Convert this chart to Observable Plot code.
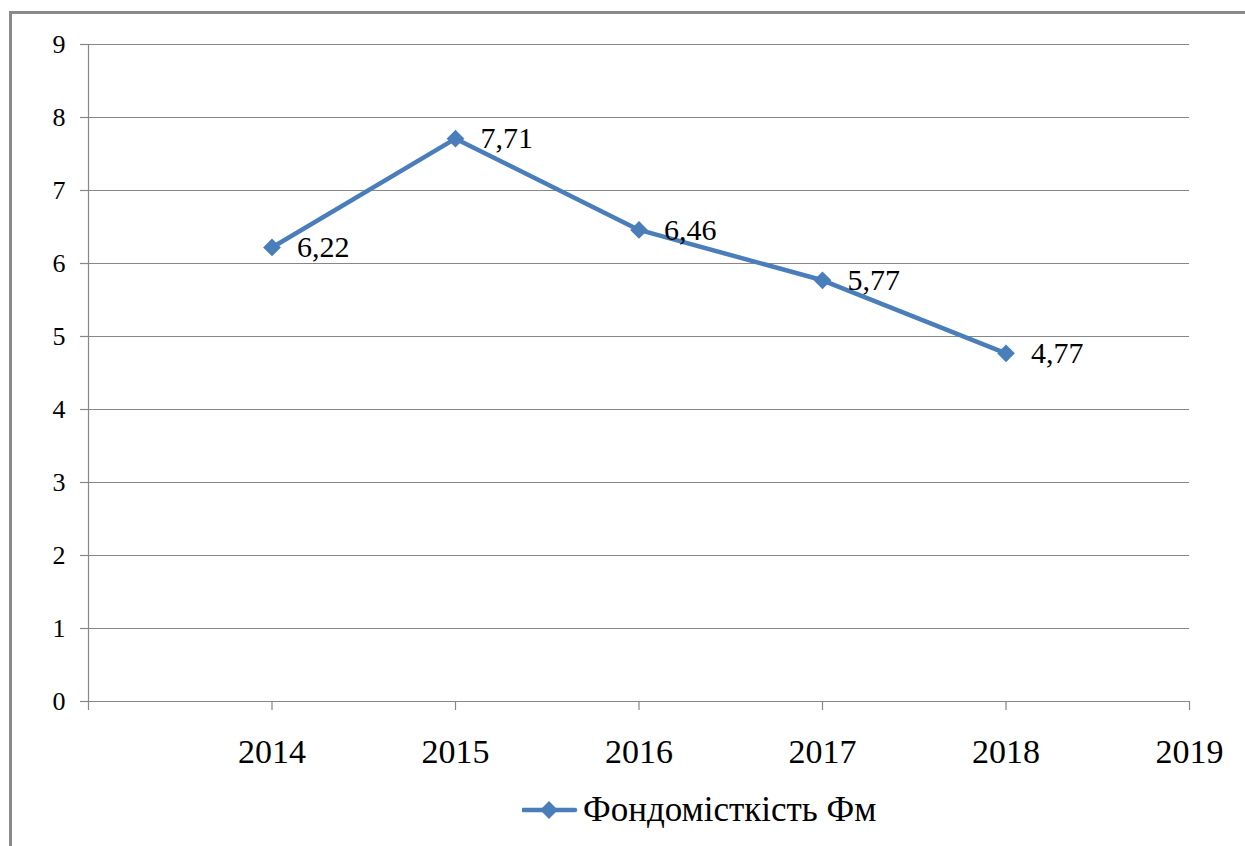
<!DOCTYPE html>
<html>
<head>
<meta charset="utf-8">
<style>
  html, body { margin: 0; padding: 0; background: #fff; overflow: hidden; }
  #wrap { position: relative; width: 1245px; height: 846px; overflow: hidden;
          font-family: 'Liberation Serif', 'Times New Roman', Tinos, 'DejaVu Serif', serif; }
  #frame { position: absolute; left: 9px; top: 11px; width: 1260px; height: 860px;
           border: 3px solid #8a8a8a; box-sizing: border-box; }
  #chart { position: absolute; left: 0; top: 0; }
  #chart text { font-family: 'Liberation Serif', 'Times New Roman', Tinos, 'DejaVu Serif', serif; }
  #legend { position: absolute; left: 522px; top: 790px; display: flex; align-items: center;
            font-size: 35px; color: #000; }
  #legend svg { margin-right: 5px; }
</style>
</head>
<body>
<div id="wrap">
  <div id="frame"></div>
  <div id="chart"></div>
  <div id="legend"><span id="swatch"></span><span id="legend-label">Фондомісткість Фм</span></div>
</div>
<script src="https://cdn.jsdelivr.net/npm/d3@7"></script>
<script src="https://cdn.jsdelivr.net/npm/@observablehq/plot@0.6"></script>
<script>
// Фондомісткість (capital intensity) by year
const years = [2014, 2015, 2016, 2017, 2018];
const values = [6.22, 7.71, 6.46, 5.77, 4.77];
const seriesName = "Фондомісткість Фм";
const yTicks = [0, 1, 2, 3, 4, 5, 6, 7, 8, 9];
const xTicks = [2013, 2014, 2015, 2016, 2017, 2018, 2019];

const data = years.map((year, i) => ({year, value: values[i]}));
const fmt = v => v.toFixed(2).replace(".", ",");

const lineColor = "#4a7ebb";
const gridColor = "#878787";
const serif = "'Liberation Serif', 'Times New Roman', Tinos, 'DejaVu Serif', serif";

const chart = Plot.plot({
  width: 1245,
  height: 780,
  marginLeft: 88,
  marginRight: 56,
  marginTop: 44,
  marginBottom: 79,
  style: {color: "#000", background: "transparent", fontFamily: serif},
  x: {domain: [2013, 2019]},
  y: {domain: [0, 9]},
  marks: [
    // horizontal gridlines
    Plot.ruleY(yTicks, {x1: 2013, x2: 2019, stroke: gridColor, strokeWidth: 1.2}),
    Plot.axisY({
      ticks: yTicks, tickSize: 8, tickPadding: 15, fontSize: 26,
      stroke: gridColor, strokeWidth: 1.2, label: null
    }),
    Plot.ruleX([2013], {stroke: gridColor, strokeWidth: 1.2}),
    Plot.axisX({
      ticks: xTicks, tickSize: 9, tickPadding: 28, fontSize: 34,
      tickFormat: d => d === 2013 ? "" : String(d),
      stroke: gridColor, strokeWidth: 1.2, label: null
    }),
    Plot.line(data, {x: "year", y: "value", stroke: lineColor, strokeWidth: 4.5}),
    Plot.dot(data, {x: "year", y: "value", symbol: "diamond2", r: 8, fill: lineColor, stroke: "none"}),
    Plot.text(data, {
      x: "year", y: "value", text: d => fmt(d.value),
      textAnchor: "start", dx: 25, dy: 0, fontSize: 30, fill: "#000"
    })
  ]
});
d3.select(chart).selectAll("text").style("font-family", serif);
document.getElementById("chart").append(chart);

// legend below the plot
const sw = d3.create("svg").attr("width", 56).attr("height", 30);
sw.append("line").attr("x1", 1).attr("x2", 53).attr("y1", 15).attr("y2", 15)
  .attr("stroke", lineColor).attr("stroke-width", 4.5).attr("stroke-linecap", "round");
sw.append("path").attr("d", d3.symbol(d3.symbolDiamond2, Math.PI * 64)())
  .attr("transform", "translate(27,15)").attr("fill", lineColor);
document.getElementById("swatch").replaceWith(sw.node());
document.getElementById("legend-label").textContent = seriesName;
</script>
</body>
</html>
